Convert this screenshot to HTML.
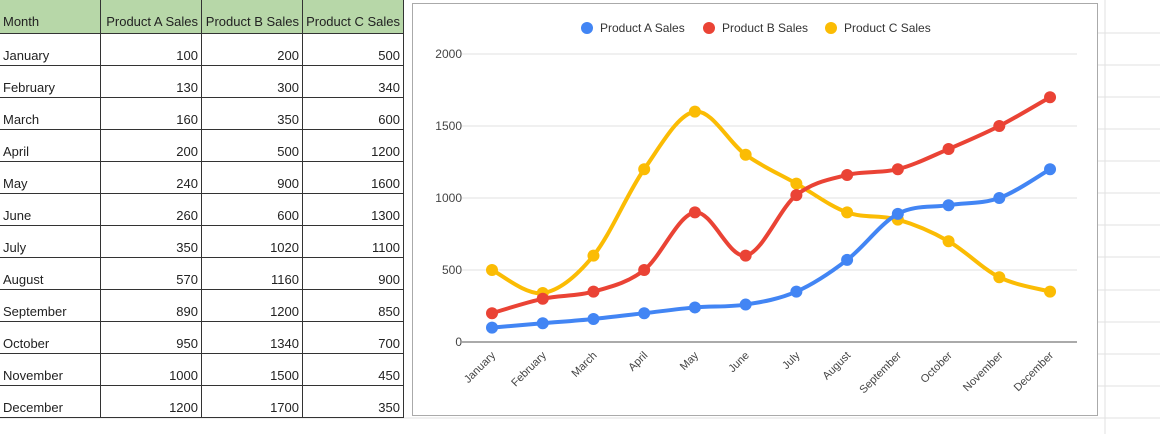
<!DOCTYPE html><html><head><style>
body{margin:0;width:1160px;height:434px;background:#fff;font-family:"Liberation Sans",Arial,sans-serif;overflow:hidden;position:relative}
table{position:absolute;left:0;top:0;border-collapse:collapse;font-size:13px;color:#222}
td{height:29px;padding:0 3px 2px 3px;border-bottom:1px solid #333;border-right:1px solid #333;vertical-align:bottom;text-align:right;line-height:15px}
td:first-child{text-align:left;width:94px}
td.n{width:94px}
tr.h td{background:#b7d7a8;height:29px;padding-bottom:4px}
</style></head><body>
<svg width="1160" height="434" style="position:absolute;left:0;top:0">
<g stroke="#e2e2e2" stroke-width="1">
<line x1="1105" y1="0" x2="1105" y2="434"/><line x1="1098" y1="33" x2="1160" y2="33"/><line x1="1098" y1="65" x2="1160" y2="65"/><line x1="1098" y1="97" x2="1160" y2="97"/><line x1="1098" y1="129" x2="1160" y2="129"/><line x1="1098" y1="161" x2="1160" y2="161"/><line x1="1098" y1="193" x2="1160" y2="193"/><line x1="1098" y1="225" x2="1160" y2="225"/><line x1="1098" y1="257" x2="1160" y2="257"/><line x1="1098" y1="290" x2="1160" y2="290"/><line x1="1098" y1="322" x2="1160" y2="322"/><line x1="1098" y1="354" x2="1160" y2="354"/><line x1="1098" y1="386" x2="1160" y2="386"/><line x1="0" y1="418" x2="1160" y2="418"/>
</g>
</svg>
<table>
<tr class="h"><td>Month</td><td class="n">Product A Sales</td><td class="n">Product B Sales</td><td class="n">Product C Sales</td></tr>
<tr><td>January</td><td>100</td><td>200</td><td>500</td></tr>
<tr><td>February</td><td>130</td><td>300</td><td>340</td></tr>
<tr><td>March</td><td>160</td><td>350</td><td>600</td></tr>
<tr><td>April</td><td>200</td><td>500</td><td>1200</td></tr>
<tr><td>May</td><td>240</td><td>900</td><td>1600</td></tr>
<tr><td>June</td><td>260</td><td>600</td><td>1300</td></tr>
<tr><td>July</td><td>350</td><td>1020</td><td>1100</td></tr>
<tr><td>August</td><td>570</td><td>1160</td><td>900</td></tr>
<tr><td>September</td><td>890</td><td>1200</td><td>850</td></tr>
<tr><td>October</td><td>950</td><td>1340</td><td>700</td></tr>
<tr><td>November</td><td>1000</td><td>1500</td><td>450</td></tr>
<tr><td>December</td><td>1200</td><td>1700</td><td>350</td></tr>
</table>
<svg id="c" width="1160" height="434" style="position:absolute;left:0;top:0" font-family="Liberation Sans, Arial, sans-serif">
<rect x="412.5" y="3.5" width="685" height="412" fill="#fff" stroke="#aaa"/>
<g stroke="#e0e0e0"><line x1="462" y1="54" x2="1077" y2="54"/><line x1="462" y1="126" x2="1077" y2="126"/><line x1="462" y1="198" x2="1077" y2="198"/><line x1="462" y1="270" x2="1077" y2="270"/></g>
<line x1="462" y1="342" x2="1077" y2="342" stroke="#555"/>
<g font-size="12" fill="#444" text-anchor="end"><text x="462" y="58">2000</text><text x="462" y="130">1500</text><text x="462" y="202">1000</text><text x="462" y="274">500</text><text x="462" y="346">0</text></g>
<g font-size="12" fill="#333"><circle cx="587" cy="28" r="6" fill="#4285f4"/><text x="600" y="32">Product A Sales</text><circle cx="709" cy="28" r="6" fill="#ea4335"/><text x="722" y="32">Product B Sales</text><circle cx="831" cy="28" r="6" fill="#fbbc04"/><text x="844" y="32">Product C Sales</text></g>
<g id="g"></g>
</svg>
<script>
var m=["January","February","March","April","May","June","July","August","September","October","November","December"];
var d=[[100,130,160,200,240,260,350,570,890,950,1000,1200],[200,300,350,500,900,600,1020,1160,1200,1340,1500,1700],[500,340,600,1200,1600,1300,1100,900,850,700,450,350]];
var col=["#4285f4","#ea4335","#fbbc04"],s="";
function X(i){return 492+i*50.73}function Y(v){return 342-v*0.144}
m.forEach(function(t,i){s+='<text font-size="11" fill="#444" text-anchor="end" transform="translate('+(X(i)+4)+',356) rotate(-45)">'+t+'</text>'});
[2,1,0].forEach(function(k){var p=d[k].map(function(v,i){return[X(i),Y(v)]});var path="M"+p[0];
for(var i=0;i<p.length-1;i++){var a=p[Math.max(i-1,0)],b=p[i],c=p[i+1],e=p[Math.min(i+2,p.length-1)];
path+="C"+(b[0]+(c[0]-a[0])/6)+","+(b[1]+(c[1]-a[1])/6)+" "+(c[0]-(e[0]-b[0])/6)+","+(c[1]-(e[1]-b[1])/6)+" "+c;}
s+='<path d="'+path+'" fill="none" stroke="'+col[k]+'" stroke-width="4"/>';
p.forEach(function(q){s+='<circle cx="'+q[0]+'" cy="'+q[1]+'" r="6" fill="'+col[k]+'"/>'})});
document.getElementById("g").innerHTML=s;
</script>
</body></html>
